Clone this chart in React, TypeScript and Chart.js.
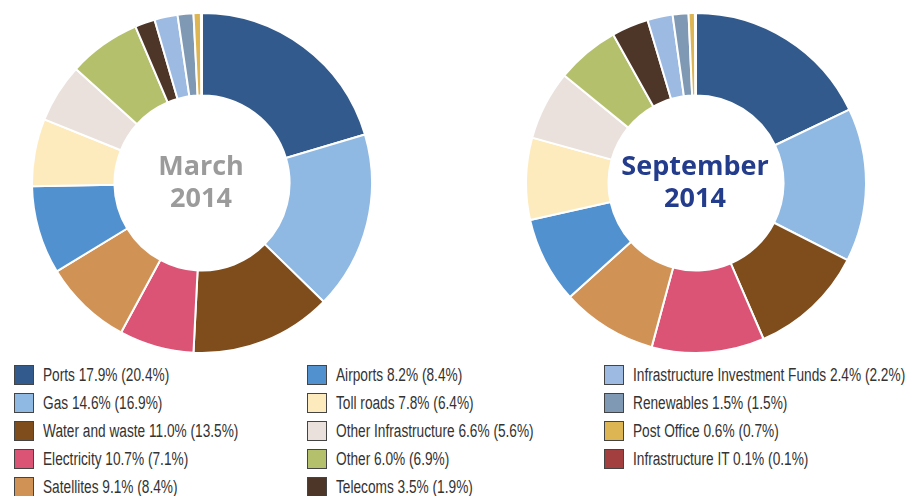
import React, { useEffect, useRef } from "react";
import { Chart, registerables } from "chart.js";

Chart.register(...registerables);

const categories = [
  "Ports", "Gas", "Water and waste", "Electricity", "Satellites", "Airports", "Toll roads",
  "Other Infrastructure", "Other", "Telecoms", "Infrastructure Investment Funds",
  "Renewables", "Post Office", "Infrastructure IT",
];
const septemberValues = [17.9, 14.6, 11.0, 10.7, 9.1, 8.2, 7.8, 6.6, 6.0, 3.5, 2.4, 1.5, 0.6, 0.1];
const marchValues = [20.4, 16.9, 13.5, 7.1, 8.4, 8.4, 6.4, 5.6, 6.9, 1.9, 2.2, 1.5, 0.7, 0.1];
const colors = [
  "#335A8C", "#8FB9E3", "#7F4D1C", "#DB5375", "#D09255", "#5291CF", "#FEEBBD",
  "#EAE1DC", "#B5C06C", "#4D3527", "#9DBAE3", "#7F99B5", "#DDB552", "#A43F3F",
];
const marchTitle = ["March", "2014"];
const septemberTitle = ["September", "2014"];

const centerTextPlugin = {
  id: "centerText",
  afterDraw(chart: any, _args: any, opts: any) {
    const meta = chart.getDatasetMeta(0);
    if (!meta.data.length) return;
    const arc = meta.data[0];
    const { x, y } = arc;
    const ctx = chart.ctx;
    ctx.save();
    ctx.fillStyle = opts.color;
    ctx.font = "bold 27px 'Open Sans', sans-serif";
    ctx.textAlign = "center";
    ctx.textBaseline = "middle";
    const lines: string[] = opts.lines || [];
    const lh = 32;
    lines.forEach((l, i) => {
      ctx.fillText(l, x - 1, y + (i - (lines.length - 1) / 2) * lh);
    });
    ctx.restore();
  },
};

function Donut({ values, title, color, left, top }: any) {
  const ref = useRef<HTMLCanvasElement>(null);
  useEffect(() => {
    if (!ref.current) return;
    const chart = new Chart(ref.current, {
      type: "doughnut",
      data: {
        labels: categories,
        datasets: [
          {
            data: values,
            backgroundColor: colors,
            borderColor: "#ffffff",
            borderWidth: 2,
          },
        ],
      },
      options: {
        animation: false,
        responsive: false,
        cutout: "51.5%",
        layout: { padding: 0 },
        plugins: {
          legend: { display: false },
          tooltip: { enabled: false },
          centerText: { lines: title, color },
        } as any,
      },
      plugins: [centerTextPlugin],
    });
    return () => chart.destroy();
  }, []);
  return (
    <canvas
      ref={ref}
      width={342}
      height={342}
      style={{ position: "absolute", left, top, width: 342, height: 342 }}
    />
  );
}

const legendColumns = [
  [0, 1, 2, 3, 4],
  [5, 6, 7, 8, 9],
  [10, 11, 12, 13],
];
const columnX = [14, 307, 604];

export default function App() {
  return (
    <div
      style={{
        position: "fixed",
        left: 0,
        top: 0,
        width: 915,
        height: 496,
        background: "#fff",
        overflow: "hidden",
      }}
    >
      <Donut values={marchValues} title={marchTitle} color="#9B9B9B" left={31} top={12} />
      <Donut values={septemberValues} title={septemberTitle} color="#243C8C" left={525} top={12} />
      {legendColumns.map((col, ci) =>
        col.map((idx, ri) => (
          <div
            key={idx}
            style={{
              position: "absolute",
              left: columnX[ci],
              top: 364 + ri * 28,
              height: 22,
              display: "flex",
              alignItems: "center",
              whiteSpace: "nowrap",
            }}
          >
            <span
              style={{
                display: "inline-block",
                width: 18,
                height: 18,
                background: colors[idx],
                border: "1px solid #444",
                marginRight: 9,
                flex: "none",
              }}
            />
            <span
              style={{
                display: "inline-block",
                fontFamily: "'Liberation Sans', Arial, sans-serif",
                fontSize: 18,
                color: "#333",
                transform: "scaleX(0.76)",
                transformOrigin: "left center",
              }}
            >
              {`${categories[idx]} ${septemberValues[idx].toFixed(1)}% (${marchValues[idx].toFixed(1)}%)`}
            </span>
          </div>
        ))
      )}
    </div>
  );
}
